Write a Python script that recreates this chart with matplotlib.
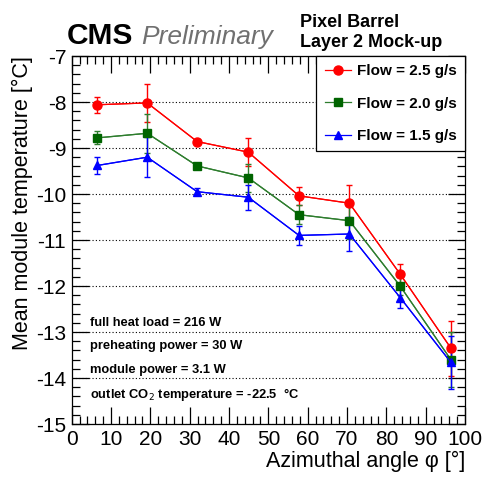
import matplotlib
matplotlib.use('Agg')
import matplotlib.pyplot as plt
from matplotlib.ticker import MultipleLocator

plt.rcParams['font.family'] = ['Liberation Sans', 'DejaVu Sans']
plt.rcParams['axes.unicode_minus'] = False

# azimuthal angle of each module position [deg]
angle = [6.5, 19.2, 31.9, 44.9, 57.8, 70.6, 83.5, 96.4]

# mean module temperature [C] and errors for each flow
temp_25 = [-8.06, -8.02, -8.86, -9.09, -10.04, -10.20, -11.74, -13.35]
err_25 = [0.17, 0.42, 0.05, 0.30, 0.20, 0.40, 0.22, 0.60]
temp_20 = [-8.78, -8.68, -9.39, -9.65, -10.45, -10.58, -12.00, -13.60]
err_20 = [0.14, 0.43, 0.05, 0.30, 0.21, 0.40, 0.20, 0.60]
temp_15 = [-9.38, -9.20, -9.95, -10.07, -10.90, -10.87, -12.25, -13.66]
err_15 = [0.18, 0.43, 0.08, 0.27, 0.20, 0.37, 0.22, 0.57]

flow_labels = ['Flow = 2.5 g/s', 'Flow = 2.0 g/s', 'Flow = 1.5 g/s']

info_lines = ['full heat load = 216 W',
              'preheating power = 30 W',
              'module power = 3.1 W',
              'outlet CO$_2$ temperature = -22.5  \u00b0C']

W, H = 483, 479
fig = plt.figure(figsize=(W / 100, H / 100), dpi=100)
ax = fig.add_axes([71.7 / W, 1 - 424 / H, (465 - 71.7) / W, (424 - 56) / H])

series = [
    (temp_25, err_25, '#ff0000', '#ff0000', 'o', 6.5),
    (temp_20, err_20, '#2e7d2e', '#006400', 's', 6),
    (temp_15, err_15, '#0000ff', '#0000ff', '^', 5.5),
]
handles = []
for (t, e, lc, mc, mk, ms), lab in zip(series, flow_labels):
    ax.errorbar(angle, t, yerr=e, color=lc, ecolor=lc, elinewidth=1,
                capsize=2.5, capthick=1, lw=0.9, zorder=3)
    h, = ax.plot(angle, t, color=lc, lw=0.9, marker=mk, ms=ms,
                 mfc=mc, mec=mc, label=lab, zorder=4)
    handles.append(h)

ax.set_xlim(0, 100)
ax.set_ylim(-15, -7)
ax.xaxis.set_major_locator(MultipleLocator(10))
ax.xaxis.set_minor_locator(MultipleLocator(2))
ax.yaxis.set_major_locator(MultipleLocator(1))
ax.yaxis.set_minor_locator(MultipleLocator(0.2))
ax.tick_params(which='both', direction='in', top=True, right=True,
               labelsize=15, width=0.9)
ax.tick_params(which='major', length=12, pad=4)
ax.tick_params(which='minor', length=6)
ax.grid(axis='y', which='major', color='black', ls=(0, (1, 2)), lw=0.8)
for s in ax.spines.values():
    s.set_linewidth(0.9)

ax.set_xlabel('Azimuthal angle \u03c6 [\u00b0]', fontsize=15.5, loc='right', labelpad=2)
ax.set_ylabel('Mean module temperature [\u00b0C]', fontsize=15.5, loc='top', labelpad=2)

leg = ax.legend(handles=handles, loc='upper right',
                prop={'weight': 'bold', 'size': 11}, frameon=True,
                fancybox=False, edgecolor='black', framealpha=1,
                borderaxespad=0, handlelength=1.7, labelspacing=1.2,
                borderpad=0.55, handletextpad=0.4)
leg.get_frame().set_linewidth(0.9)

for i, line in enumerate(info_lines):
    fig.text(90 / W, 1 - (322.7 + i * 23.8) / H, line, fontsize=9.3,
             fontweight='bold', va='center', ha='left')

fig.text(67 / W, 1 - 44 / H, 'CMS', fontsize=21.5, fontweight='bold', va='baseline')
fig.text(141 / W, 1 - 44 / H, 'Preliminary', fontsize=19, style='italic',
         color='#707070', va='baseline')
fig.text(300 / W, 1 - 27 / H, 'Pixel Barrel', fontsize=13, fontweight='bold', va='baseline')
fig.text(300 / W, 1 - 47 / H, 'Layer 2 Mock-up', fontsize=13, fontweight='bold', va='baseline')

fig.savefig('out.png', dpi=100)
